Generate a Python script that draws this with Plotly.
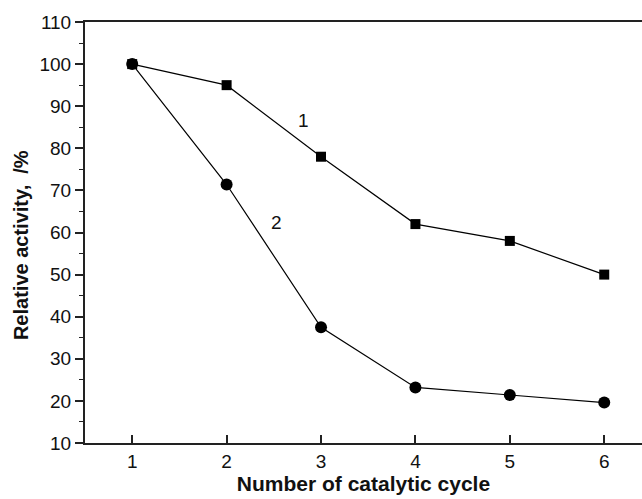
import plotly.graph_objects as go

cycles = [1, 2, 3, 4, 5, 6]
series1 = [100, 95, 78, 62, 58, 50]
series2 = [100, 71.4, 37.5, 23.2, 21.4, 19.6]
labels = ["1", "2"]
label_x = [2.81, 2.53]
label_y = [86.5, 62.3]

fig = go.Figure()
fig.add_trace(go.Scatter(x=cycles, y=series1, mode="lines+markers",
                         line=dict(color="black", width=1.2),
                         marker=dict(symbol="square", size=10, color="black"),
                         showlegend=False))
fig.add_trace(go.Scatter(x=cycles, y=series2, mode="lines+markers",
                         line=dict(color="black", width=1.2),
                         marker=dict(symbol="circle", size=12, color="black"),
                         showlegend=False))
for t, x, y in zip(labels, label_x, label_y):
    fig.add_annotation(x=x, y=y, text=t, showarrow=False,
                       font=dict(family="Liberation Sans, Arial", size=19, color="#111"))

# y-axis title placed as a rotated annotation
fig.add_annotation(xref="paper", yref="paper", x=-0.115, y=0.47,
                   text="<b>Relative activity,&nbsp;&nbsp;/%</b>", showarrow=False,
                   textangle=-90, xanchor="center", yanchor="middle",
                   font=dict(family="Liberation Sans, Arial", size=20, color="#111"))

fig.update_layout(
    width=642, height=499,
    margin=dict(l=85, r=0, t=22, b=56),
    plot_bgcolor="white", paper_bgcolor="white",
    font=dict(family="Liberation Sans, Arial", size=19, color="#111"),
)
fig.update_xaxes(range=[0.5, 6.4], tickvals=cycles, ticks="inside", ticklen=8,
                 tickwidth=1.5, tickcolor="#222", showline=True, linecolor="#222",
                 linewidth=2, mirror=True, showgrid=False, zeroline=False,
                 title=dict(text="<b>Number of catalytic cycle</b>", standoff=5,
                            font=dict(size=21)),
                 tickfont=dict(size=19))
fig.update_yaxes(range=[10, 110], tickvals=list(range(10, 111, 10)), ticks="outside",
                 ticklen=8, tickwidth=1.5, tickcolor="#222", showline=True,
                 linecolor="#222", linewidth=2, mirror=False, showgrid=False,
                 zeroline=False,
                 minor=dict(ticks="outside", ticklen=4, tickwidth=1.2, tickcolor="#222",
                            dtick=5, showgrid=False),
                 tickfont=dict(size=19))

fig.write_html("out.html")
